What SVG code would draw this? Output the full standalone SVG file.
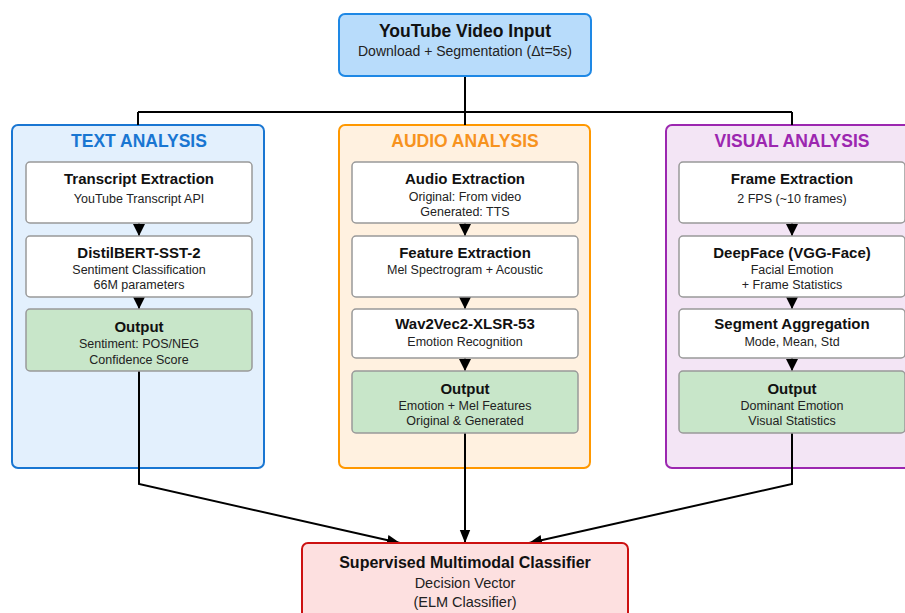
<svg xmlns="http://www.w3.org/2000/svg" width="905" height="613" viewBox="0 0 905 613">
<defs>
<marker id="ah" viewBox="0 0 10 10" refX="10" refY="5" markerWidth="12" markerHeight="12" markerUnits="userSpaceOnUse" orient="auto"><path d="M0,0 L10,5 L0,10 z" fill="#000"/></marker>
<marker id="ahs" viewBox="0 0 10 10" refX="10" refY="5" markerWidth="13" markerHeight="13" markerUnits="userSpaceOnUse" orient="auto"><path d="M0,1 L10,5 L0,9 z" fill="#000"/></marker>
</defs>
<style>
text{font-family:"Liberation Sans",Arial,sans-serif;text-anchor:middle;fill:#111}
.t{font-size:15px;font-weight:bold}
.s{font-size:12.5px;fill:#222}
.pt{font-size:17.5px;font-weight:bold}
.box{fill:#fff;stroke:#999;stroke-width:1.5}
.out{fill:#c8e6c9;stroke:#999;stroke-width:1.5}
.c{stroke:#000;stroke-width:2;fill:none}
.a{stroke:#000;stroke-width:1.5;fill:none}
</style>
<rect width="905" height="613" fill="#fff"/>
<g id="panel-text">
<rect x="12" y="125" width="252" height="343" rx="6" fill="#e3f0fd" stroke="#1976d2" stroke-width="2"/>
<text class="pt" x="139" y="147" style="fill:#1976d2">TEXT ANALYSIS</text>
</g>
<g id="panel-audio">
<rect x="339" y="125" width="251" height="343" rx="6" fill="#fff1e0" stroke="#ff9800" stroke-width="2"/>
<text class="pt" x="465" y="147" style="fill:#f7931e">AUDIO ANALYSIS</text>
</g>
<g id="panel-visual">
<rect x="666" y="125" width="252" height="343" rx="6" fill="#f3e5f5" stroke="#9c27b0" stroke-width="2"/>
<text class="pt" x="792" y="147" style="fill:#9c27b0">VISUAL ANALYSIS</text>
</g>
<g id="connectors">
<path class="c" d="M465,76 V112 M138,112 H792 M138,112 V125 M465,112 V125 M792,112 V125"/>
<path class="a" d="M139,223 V236" marker-end="url(#ah)"/>
<path class="a" d="M139,297 V309" marker-end="url(#ah)"/>
<path class="a" d="M465,223 V236" marker-end="url(#ah)"/>
<path class="a" d="M465,297 V309" marker-end="url(#ah)"/>
<path class="a" d="M465,358 V371" marker-end="url(#ah)"/>
<path class="a" d="M792,223 V236" marker-end="url(#ah)"/>
<path class="a" d="M792,297 V309" marker-end="url(#ah)"/>
<path class="a" d="M792,358 V371" marker-end="url(#ah)"/>
<path class="c" d="M139,371 V484 L400,543" marker-end="url(#ahs)"/>
<path class="c" d="M465,433 V543" marker-end="url(#ahs)"/>
<path class="c" d="M792,433 V484 L529,543" marker-end="url(#ahs)"/>
</g>
<g id="input">
<rect x="339" y="14" width="252" height="62" rx="6" fill="#b8dcfb" stroke="#1e88e5" stroke-width="2"/>
<text class="t" x="465" y="37" style="font-size:17.5px">YouTube Video Input</text>
<text class="s" x="465" y="56" style="font-size:14px">Download + Segmentation (Δt=5s)</text>
</g>
<g id="transcript">
<rect class="box" x="26" y="162" width="226" height="61" rx="4"/>
<text class="t" x="139" y="184">Transcript Extraction</text>
<text class="s" x="139" y="203">YouTube Transcript API</text>
</g>
<g id="distilbert">
<rect class="box" x="26" y="236" width="226" height="61" rx="4"/>
<text class="t" x="139" y="258">DistilBERT-SST-2</text>
<text class="s" x="139" y="274">Sentiment Classification</text>
<text class="s" x="139" y="289">66M parameters</text>
</g>
<g id="text-output">
<rect class="out" x="26" y="309" width="226" height="62" rx="4"/>
<text class="t" x="139" y="332">Output</text>
<text class="s" x="139" y="348">Sentiment: POS/NEG</text>
<text class="s" x="139" y="364">Confidence Score</text>
</g>
<g id="audio-extraction">
<rect class="box" x="352" y="162" width="226" height="61" rx="4"/>
<text class="t" x="465" y="184">Audio Extraction</text>
<text class="s" x="465" y="201">Original: From video</text>
<text class="s" x="465" y="216">Generated: TTS</text>
</g>
<g id="feature-extraction">
<rect class="box" x="352" y="236" width="226" height="61" rx="4"/>
<text class="t" x="465" y="258">Feature Extraction</text>
<text class="s" x="465" y="274">Mel Spectrogram + Acoustic</text>
</g>
<g id="wav2vec">
<rect class="box" x="352" y="309" width="226" height="49" rx="4"/>
<text class="t" x="465" y="329">Wav2Vec2-XLSR-53</text>
<text class="s" x="465" y="346">Emotion Recognition</text>
</g>
<g id="audio-output">
<rect class="out" x="352" y="371" width="226" height="62" rx="4"/>
<text class="t" x="465" y="394">Output</text>
<text class="s" x="465" y="410">Emotion + Mel Features</text>
<text class="s" x="465" y="425">Original &amp; Generated</text>
</g>
<g id="frame-extraction">
<rect class="box" x="679" y="162" width="226" height="61" rx="4"/>
<text class="t" x="792" y="184">Frame Extraction</text>
<text class="s" x="792" y="203">2 FPS (~10 frames)</text>
</g>
<g id="deepface">
<rect class="box" x="679" y="236" width="226" height="61" rx="4"/>
<text class="t" x="792" y="258">DeepFace (VGG-Face)</text>
<text class="s" x="792" y="274">Facial Emotion</text>
<text class="s" x="792" y="289">+ Frame Statistics</text>
</g>
<g id="segment-aggregation">
<rect class="box" x="679" y="309" width="226" height="49" rx="4"/>
<text class="t" x="792" y="329">Segment Aggregation</text>
<text class="s" x="792" y="346">Mode, Mean, Std</text>
</g>
<g id="visual-output">
<rect class="out" x="679" y="371" width="226" height="62" rx="4"/>
<text class="t" x="792" y="394">Output</text>
<text class="s" x="792" y="410">Dominant Emotion</text>
<text class="s" x="792" y="425">Visual Statistics</text>
</g>
<g id="classifier">
<rect x="302" y="543" width="326" height="85" rx="6" fill="#fde0e0" stroke="#cc1111" stroke-width="2"/>
<text class="t" x="465" y="568" style="font-size:16px">Supervised Multimodal Classifier</text>
<text class="s" x="465" y="588" style="font-size:14.5px">Decision Vector</text>
<text class="s" x="465" y="607" style="font-size:14.5px">(ELM Classifier)</text>
</g>
</svg>
